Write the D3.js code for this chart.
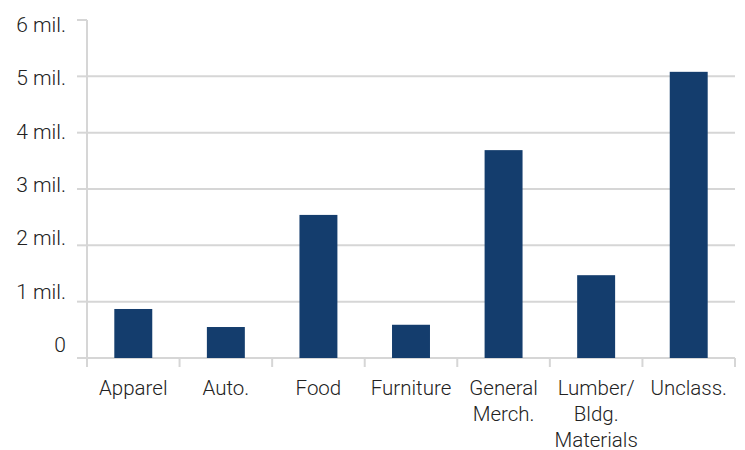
<!DOCTYPE html>
<html>
<head>
<meta charset="utf-8">
<script src="https://cdn.jsdelivr.net/npm/d3@7"></script>
<style>
  html, body { margin: 0; padding: 0; background: #fff; }
  svg text { font-family: Roboto, "Open Sans", sans-serif; font-weight: 300; fill: #222; }
</style>
</head>
<body>
<svg id="chart" width="745" height="450"></svg>
<script>
const categories = ["Apparel", "Auto.", "Food", "Furniture", "General\nMerch.", "Lumber/\nBldg.\nMaterials", "Unclass."];
const values = [0.87, 0.55, 2.54, 0.59, 3.69, 1.47, 5.08];
const yTicks = [0, 1, 2, 3, 4, 5, 6];
const yTickLabels = ["0", "1 mil.", "2 mil.", "3 mil.", "4 mil.", "5 mil.", "6 mil."];

(function () {
const svg = d3.select("#chart");
const mLeft = 87, mRight = 735, mTop = 20, mBottom = 358;
const gridColor = "#d6d6d6";

const x = d3.scaleBand().domain(categories).range([mLeft, mRight]).padding(0);
const y = d3.scaleLinear().domain([0, 6]).range([mBottom, mTop]);
const yLab = d3.scaleLinear().domain([0, 6]).range([352, 32]);

// gridlines
svg.append("g").selectAll("line").data(yTicks.filter(d => d > 0 && d < 6)).join("line")
  .attr("x1", mLeft).attr("x2", mRight)
  .attr("y1", d => y(d)).attr("y2", d => y(d))
  .attr("stroke", gridColor).attr("stroke-width", 2);

// y axis line + ticks
svg.append("line").attr("x1", mLeft).attr("x2", mLeft).attr("y1", mTop).attr("y2", mBottom + 8)
  .attr("stroke", gridColor).attr("stroke-width", 2);
svg.append("g").selectAll("line").data(yTicks).join("line")
  .attr("x1", mLeft - 10).attr("x2", mLeft)
  .attr("y1", d => y(d)).attr("y2", d => y(d))
  .attr("stroke", gridColor).attr("stroke-width", 2);

// x axis line + ticks
svg.append("line").attr("x1", mLeft).attr("x2", mRight).attr("y1", mBottom).attr("y2", mBottom)
  .attr("stroke", gridColor).attr("stroke-width", 2);
const xTickPos = categories.map(c => x(c)).concat([x(categories[categories.length - 1]) + x.bandwidth()]);
svg.append("g").selectAll("line").data(xTickPos).join("line")
  .attr("x1", d => d).attr("x2", d => d)
  .attr("y1", mBottom).attr("y2", mBottom + 9)
  .attr("stroke", gridColor).attr("stroke-width", 2);

// bars
const barW = x.bandwidth() * 0.41;
svg.append("g").selectAll("rect").data(values).join("rect")
  .attr("x", (d, i) => x(categories[i]) + (x.bandwidth() - barW) / 2)
  .attr("width", barW)
  .attr("y", d => y(d))
  .attr("height", d => y(0) - y(d))
  .attr("fill", "#143d6d");

// y labels
svg.append("g").selectAll("text").data(yTicks).join("text")
  .attr("x", 66).attr("y", d => yLab(d))
  .attr("text-anchor", "end")
  .style("font-size", "21px")
  .text((d, i) => yTickLabels[i]);

// x labels
const xl = svg.append("g").selectAll("text").data(categories).join("text")
  .attr("x", d => x(d) + x.bandwidth() / 2)
  .attr("y", 395)
  .attr("text-anchor", "middle")
  .style("font-size", "20.5px");
xl.each(function(d) {
  const lines = d.split("\n");
  d3.select(this).selectAll("tspan").data(lines).join("tspan")
    .attr("x", x(d) + x.bandwidth() / 2)
    .attr("dy", (l, i) => i === 0 ? 0 : 26)
    .text(l => l);
});
})();
</script>
</body>
</html>
